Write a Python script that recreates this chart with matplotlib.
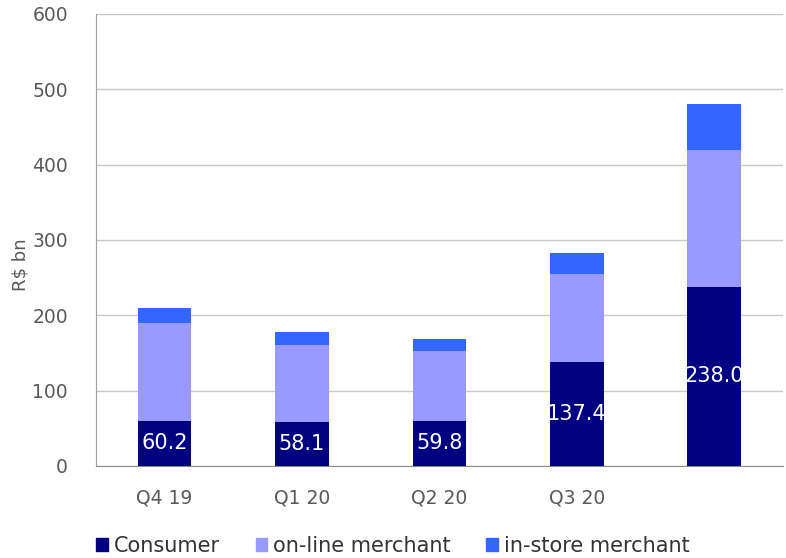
import numpy as np
import matplotlib
matplotlib.use("Agg")
import matplotlib.pyplot as plt
from matplotlib.patches import Patch

quarters = ["Q4 19", "Q1 20", "Q2 20", "Q3 20", ""]
consumer = [60.2, 58.1, 59.8, 137.4, 238.0]
online = [129.8, 101.9, 92.9, 117.6, 181.0]
instore = [20.0, 18.0, 16.3, 28.0, 61.0]

colors = {"Consumer": "#000080", "on-line merchant": "#9999FF", "in-store merchant": "#3366FF"}
grey = "#595959"

plt.rcParams['font.family'] = ['DejaVu Sans']

fig = plt.figure(figsize=(7.86, 5.58), dpi=100)
ax = fig.add_axes([0.122, 0.165, 0.874, 0.81])

x = np.arange(len(quarters))
w = 0.39
bottom2 = np.array(consumer) + np.array(online)
ax.bar(x, consumer, w, color=colors["Consumer"], zorder=3)
ax.bar(x, online, w, bottom=consumer, color=colors["on-line merchant"], zorder=3)
ax.bar(x, instore, w, bottom=bottom2, color=colors["in-store merchant"], zorder=3)

# consumer values printed inside the bottom segment
for xi, v in zip(x, consumer):
    ax.text(xi, v / 2, f"{v:.1f}", ha="center", va="center",
            color="white", fontsize=15, zorder=4)

ax.set_xlim(-0.5, 4.5)
ax.set_ylim(0, 600)
ax.set_yticks(range(0, 601, 100))
ax.set_xticks(x)
ax.set_xticklabels(quarters)
ax.tick_params(length=0, labelsize=13.5, labelcolor=grey)
ax.tick_params(axis="y", pad=20)
ax.tick_params(axis="x", pad=16)
ax.yaxis.grid(True, color="#c8c8c8", linewidth=1, zorder=0)
for s in ["top", "right"]:
    ax.spines[s].set_visible(False)
ax.spines["left"].set_color("#a0a0a0")
ax.spines["bottom"].set_color("#888888")
ax.set_ylabel("R$ bn", color=grey, fontsize=13)
ax.yaxis.set_label_coords(-0.097, 0.445)

handles = [Patch(color=c, label=k) for k, c in colors.items()]
fig.legend(handles=handles, loc="lower center", bbox_to_anchor=(0.5, -0.03),
           ncol=3, frameon=False, fontsize=15, handlelength=0.55, handleheight=0.55,
           handletextpad=0.3, columnspacing=1.7, labelcolor="#333333")

fig.savefig("out.png", dpi=100)
